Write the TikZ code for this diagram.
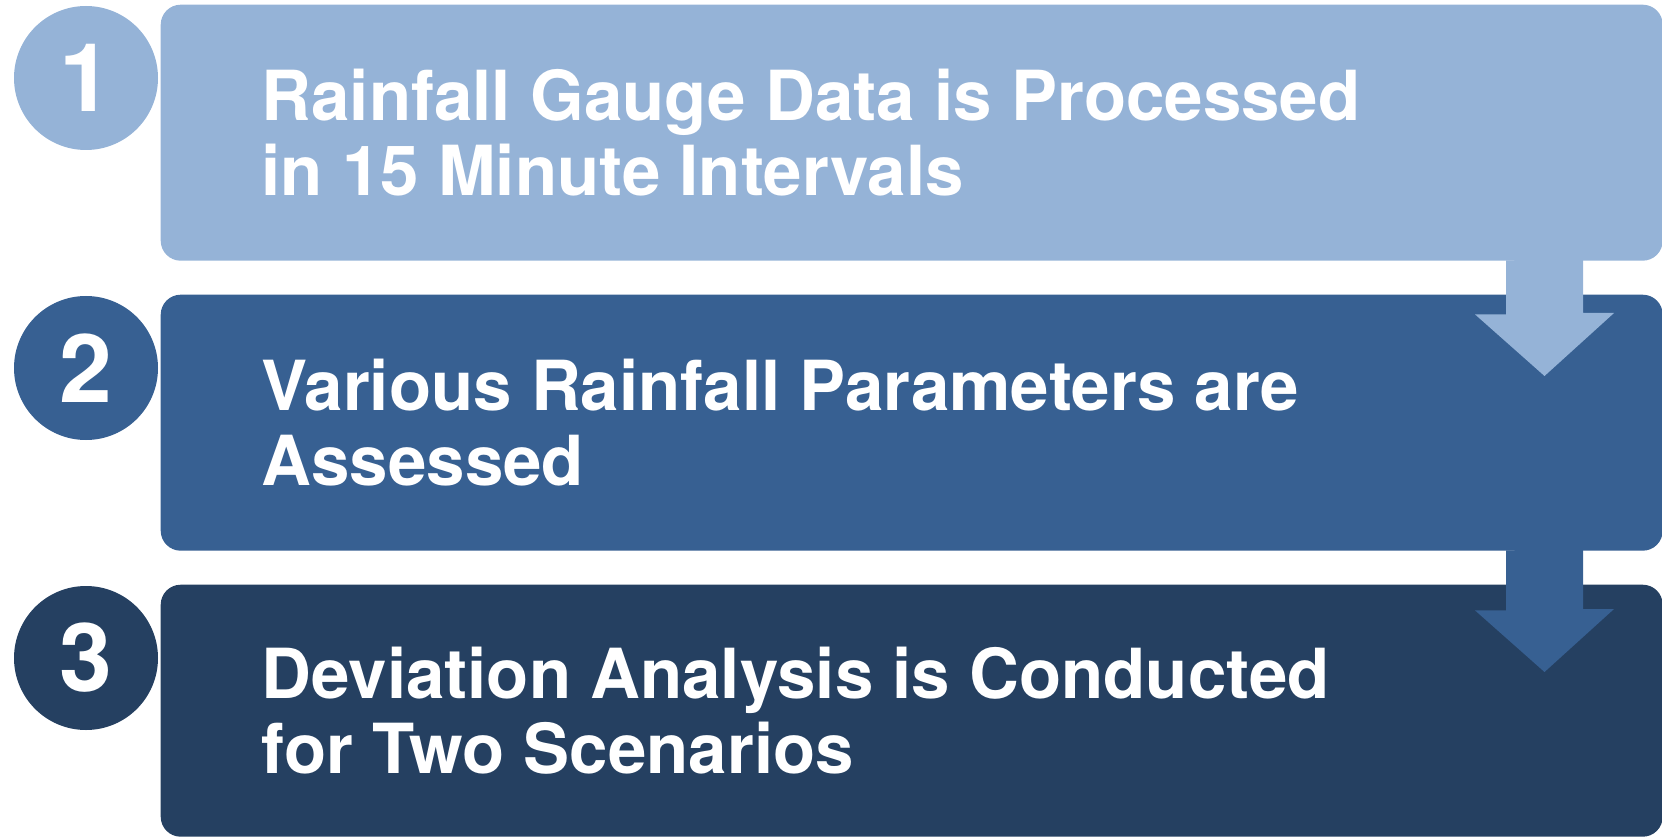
\documentclass[tikz,border=0pt]{standalone}
\usepackage{fontspec}
\setmainfont{TeX Gyre Heros}
\usetikzlibrary{positioning}
\definecolor{steplight}{HTML}{95B3D7}
\definecolor{stepmid}{HTML}{376092}
\definecolor{stepdark}{HTML}{254061}
\tikzset{
  stepbox/.style={rounded corners=2mm, minimum width=150.2mm, minimum height=25.6mm,
    inner sep=0pt, anchor=north west},
  stepnum/.style={circle, minimum size=14.4mm, inner sep=0pt, text=white,
    font=\fontsize{27}{27}\selectfont\bfseries},
  steptext/.style={text=white, align=left, inner sep=0pt,
    font=\fontsize{19.65}{21.3}\selectfont\bfseries},
}
\begin{document}
\begin{tikzpicture}[x=0.1mm,y=0.1mm]
    \useasboundingbox (0,0) rectangle (1662,836);
    % the three steps
    \node[stepbox, fill=steplight] (box1) at (160,832) {};
    \node[stepbox, fill=stepmid] (box2) at (160,542) {};
    \node[stepbox, fill=stepdark, minimum height=25.2mm] (box3) at (160,252) {};
    \node[stepnum, fill=steplight] (num1) at (86,758) {1};
    \node[stepnum, fill=stepmid] (num2) at (86,468) {2};
    \node[stepnum, fill=stepdark] (num3) at (86,178) {3};
    \node[steptext, right=10.1mm of box1.west] (text1)
        {Rainfall Gauge Data is Processed\\in 15 Minute Intervals};
    \node[steptext, right=10.1mm of box2.west] (text2)
        {Various Rainfall Parameters are\\Assessed};
    \node[steptext, right=10.1mm of box3.west] (text3)
        {Deviation Analysis is Conducted\\for Two Scenarios};
    % block arrows between the steps
    \coordinate (tip1) at (1544.5,460);
    \coordinate (tip2) at (1544.5,164);
    \fill[steplight] (box1.south -| tip1) ++(-38.5,1) -- ++(0,-54) -- ++(-31,0)
        -- (tip1) -- ++(69.5,63) -- ++(-31,0) -- ++(0,54) -- cycle;
    \fill[stepmid] (box2.south -| tip2) ++(-38.5,1) -- ++(0,-60) -- ++(-31,0)
        -- (tip2) -- ++(69.5,63) -- ++(-31,0) -- ++(0,60) -- cycle;
\end{tikzpicture}
\end{document}
